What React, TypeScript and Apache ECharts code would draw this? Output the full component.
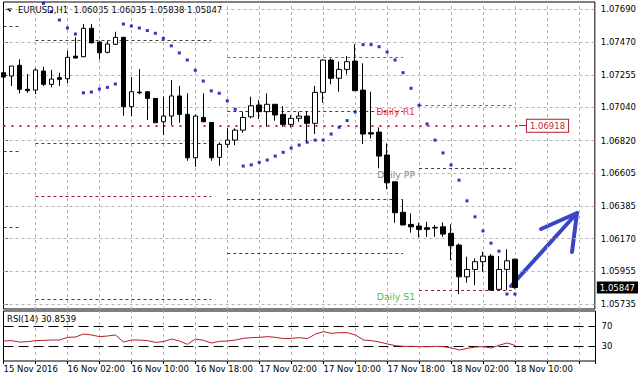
import React, { useEffect, useRef } from "react";
import * as echarts from "echarts";

// ---- data (EURUSD H1, first candle = 15 Nov 2016 18:00) ----
const opens = [1.07269, 1.07247, 1.07318, 1.07159, 1.07154, 1.0728, 1.07192, 1.07236, 1.07229, 1.07379, 1.07375, 1.07563, 1.07472, 1.07404, 1.07457, 1.07503, 1.07044, 1.07141, 1.07143, 1.07099, 1.06944, 1.06982, 1.07115, 1.06993, 1.06706, 1.06973, 1.0694, 1.06709, 1.06795, 1.06823, 1.06889, 1.06977, 1.07055, 1.07011, 1.0706, 1.06993, 1.06927, 1.06967, 1.06982, 1.06934, 1.07139, 1.07353, 1.07232, 1.07291, 1.07346, 1.07154, 1.06872, 1.06876, 1.06724, 1.06547, 1.06345, 1.06265, 1.06254, 1.06243, 1.06245, 1.06249, 1.06206, 1.06128, 1.05918, 1.05967, 1.06018, 1.06055, 1.05835, 1.05967, 1.06035];
const highs = [1.07399, 1.07313, 1.07357, 1.0726, 1.07298, 1.07308, 1.07287, 1.07269, 1.07414, 1.07503, 1.07591, 1.07591, 1.07481, 1.07481, 1.0754, 1.07507, 1.0724, 1.07293, 1.07143, 1.07099, 1.0711, 1.0722, 1.07181, 1.07132, 1.06993, 1.07132, 1.0694, 1.06808, 1.06901, 1.06901, 1.07011, 1.0711, 1.07088, 1.07132, 1.0706, 1.07048, 1.06989, 1.07011, 1.07011, 1.07181, 1.07357, 1.07364, 1.07342, 1.07379, 1.07457, 1.07331, 1.07143, 1.06907, 1.06801, 1.06547, 1.06426, 1.06338, 1.06276, 1.06282, 1.06261, 1.06278, 1.06265, 1.06139, 1.06051, 1.0604, 1.06084, 1.06069, 1.06055, 1.061, 1.06035];
const lows = [1.07181, 1.07181, 1.07132, 1.07136, 1.07128, 1.07181, 1.07172, 1.07181, 1.07199, 1.07364, 1.07371, 1.07463, 1.07357, 1.07397, 1.07452, 1.06984, 1.06982, 1.07126, 1.06956, 1.06938, 1.06856, 1.06923, 1.06938, 1.06686, 1.06646, 1.06944, 1.06686, 1.06653, 1.06772, 1.0679, 1.06872, 1.06967, 1.06962, 1.06911, 1.06951, 1.06911, 1.06907, 1.06944, 1.06812, 1.06863, 1.0707, 1.07192, 1.07143, 1.07258, 1.0715, 1.06797, 1.06834, 1.06636, 1.06497, 1.06276, 1.06261, 1.0621, 1.06179, 1.06183, 1.06183, 1.06183, 1.06029, 1.05804, 1.05879, 1.05863, 1.05951, 1.0583, 1.05835, 1.0583, 1.05838];
const closes = [1.0724, 1.07313, 1.07159, 1.0715, 1.07287, 1.07192, 1.07227, 1.07225, 1.07371, 1.07366, 1.07563, 1.07467, 1.07401, 1.07459, 1.07503, 1.07044, 1.07143, 1.07136, 1.07099, 1.06938, 1.06982, 1.07115, 1.06993, 1.06706, 1.06982, 1.06944, 1.06706, 1.06795, 1.06823, 1.06889, 1.06973, 1.0705, 1.07011, 1.0706, 1.06989, 1.06927, 1.06967, 1.06982, 1.06934, 1.07139, 1.07353, 1.07232, 1.07291, 1.07342, 1.0715, 1.06863, 1.06863, 1.06717, 1.0654, 1.06342, 1.06261, 1.06249, 1.06232, 1.06232, 1.06241, 1.06201, 1.06124, 1.05918, 1.05967, 1.06018, 1.06055, 1.0583, 1.05967, 1.06024, 1.05847];
const parabolicSar = [null, null, null, null, null, 1.07728, 1.07673, 1.07618, 1.07565, 1.07525, 1.07136, 1.07141, 1.07161, 1.07172, 1.07194, 1.07591, 1.07578, 1.07565, 1.07548, 1.0753, 1.07496, 1.07447, 1.074, 1.07353, 1.07285, 1.07214, 1.07149, 1.07133, 1.07083, 1.07027, 1.06651, 1.06659, 1.06676, 1.06691, 1.06717, 1.06742, 1.0677, 1.0679, 1.06809, 1.06823, 1.06823, 1.06863, 1.06908, 1.06952, 1.07009, 1.07455, 1.07455, 1.07441, 1.07406, 1.07353, 1.07269, 1.07166, 1.07054, 1.0693, 1.06823, 1.06738, 1.06658, 1.06558, 1.06421, 1.06315, 1.06222, 1.06141, 1.06088, 1.05804, 1.05804];
const rsi14 = [40, 40.7, 38, 38.7, 40.7, 41.3, 42, 42, 47.3, 48, 54, 52, 48.7, 50, 52, 38, 42, 42, 40.7, 37.3, 38.7, 44, 40, 33.3, 44, 41.3, 36, 39.3, 40, 42, 45.3, 46.7, 47.3, 48.7, 47.3, 44.7, 45.3, 46.7, 44.7, 54, 58.7, 55.3, 56.7, 56.7, 52, 42, 40.7, 38, 34, 30.7, 29.3, 29.3, 28.7, 28.7, 29.3, 28.7, 26, 22, 25.3, 28, 28.7, 26, 32, 36, 30.8539];

const priceTicks = [1.0769, 1.0747, 1.07255, 1.0704, 1.0682, 1.06605, 1.06385, 1.0617, 1.05955, 1.05735];
const timeTickIndex = [0, 8, 16, 24, 32, 40, 48, 56, 64];
const timeTickLabels = ["15 Nov 2016", "16 Nov 02:00", "16 Nov 10:00", "16 Nov 18:00", "17 Nov 02:00", "17 Nov 10:00", "17 Nov 18:00", "18 Nov 02:00", "18 Nov 10:00"];
const rsiTicks = [0, 30, 70, 100];
const rsiLevels = [70, 30];
const markedPrice = 1.06918;

// daily pivot segments: start/end slot of each day
const pivotSpans = [[0, 1.9], [4, 26], [28, 50], [52, 63.6]];
// [day, value, kind]
const pivotLevels: [number, number, string][] = [
  [0, 1.07578, "pp"], [0, 1.0675, "s"], [0, 1.06249, "s"],
  [1, 1.07481, "pp"], [1, 1.06801, "s"], [1, 1.06448, "s"], [1, 1.05771, "s"],
  [2, 1.07371, "r"], [2, 1.07017, "pp"], [2, 1.06431, "s"], [2, 1.06073, "s"],
  [3, 1.07053, "r"], [3, 1.06636, "pp"], [3, 1.0583, "s"],
];
const pivotNames: Record<string, string> = { r: "Daily R1", pp: "Daily PP", s: "Daily S1" };

const FONT = "DejaVu Sans, Verdana, sans-serif";
const SLOTS = 74;
const GRID_STEP = 4;
const PRICE_MIN = 1.05705;
const PRICE_MAX = 1.07737;

export default function App() {
  const ref = useRef<HTMLDivElement>(null);
  useEffect(() => {
    const chart = echarts.init(ref.current!, null, { renderer: "svg" });
    const candleData = opens.map((o, i) => [i, o, closes[i], lows[i], highs[i]]);
    const sarData = parabolicSar.map((v, i) => [i, v]).filter((d) => d[1] != null);
    const rsiData = rsi14.map((v, i) => [i, v]);
    const last = closes[closes.length - 1];
    const vGrid: number[] = [];
    for (let x = GRID_STEP; x < SLOTS; x += GRID_STEP) vGrid.push(x);

    const lineColors: Record<string, string> = { r: "#2e9e2e", pp: "#404040", s: "#a01424" };
    const labelColors: Record<string, string> = { r: "#e0403a", pp: "#8a8a8a", s: "#4cc04c" };
    const lastDay = pivotSpans.length - 1;
    const pivotData = pivotLevels.map(([d, v, k]) => {
      const [a, b] = pivotSpans[d];
      const showLabel = d === lastDay;
      return [
        {
          coord: [a, v],
          lineStyle: { color: lineColors[k], type: [3, 3], width: 1 },
          label: showLabel
            ? { show: true, position: "start", formatter: "\n" + pivotNames[k], color: labelColors[k], fontSize: 9.3, fontFamily: FONT, lineHeight: 13, distance: 4 }
            : { show: false },
        },
        { coord: [b, v] },
      ];
    });

    const gridLine = () => ({ color: "#b4b4b4", type: [3, 3], width: 1 });
    const ml = (extra: any) => ({ silent: true, symbol: ["none", "none"], animation: false, precision: 6, label: { show: false }, ...extra });
    const hGridMain = priceTicks.map((v) => [{ coord: [0, v], lineStyle: gridLine() }, { coord: [SLOTS, v] }]);
    const vGridMain = vGrid.map((x) => [{ coord: [x, PRICE_MIN], lineStyle: gridLine() }, { coord: [x, PRICE_MAX] }]);
    const vGridRsi = vGrid.map((x) => [{ coord: [x, 0], lineStyle: gridLine() }, { coord: [x, 100] }]);

    const option: any = {
      animation: false,
      backgroundColor: "#ffffff",
      textStyle: { fontFamily: FONT },
      grid: [
        { left: 3.5, top: 2, width: 592, height: 307, show: true, backgroundColor: "rgba(0,0,0,0)", borderColor: "#000", borderWidth: 1, z: 0 },
        { left: 3.5, top: 311, width: 592, height: 50, show: true, backgroundColor: "rgba(0,0,0,0)", borderColor: "#000", borderWidth: 1, z: 0 },
      ],
      xAxis: [
        { type: "value", gridIndex: 0, min: 0, max: SLOTS, interval: GRID_STEP, axisLine: { show: false }, axisTick: { show: false }, axisLabel: { show: false }, splitLine: { show: false } },
        {
          type: "value", gridIndex: 1, min: 0, max: SLOTS, interval: GRID_STEP,
          axisLine: { show: false },
          axisTick: { show: true, length: 3, lineStyle: { color: "#000" } },
          axisLabel: {
            customValues: timeTickIndex,
            formatter: (v: number) => timeTickLabels[timeTickIndex.indexOf(v)] ?? "",
            align: "left", margin: 3, color: "#000", fontSize: 8.5, fontFamily: FONT,
          },
          splitLine: { show: false },
        },
      ],
      yAxis: [
        {
          type: "value", gridIndex: 0, position: "right", min: PRICE_MIN, max: PRICE_MAX,
          axisLine: { show: false },
          axisTick: { show: true, customValues: priceTicks, length: 4, lineStyle: { color: "#000" } },
          axisLabel: { customValues: priceTicks, formatter: (v: number) => v.toFixed(5), margin: 6, color: "#000", fontSize: 8.5, fontFamily: FONT },
          splitLine: { show: false },
        },
        {
          type: "value", gridIndex: 1, position: "right", min: 0, max: 100,
          axisLine: { show: false },
          axisTick: { show: true, customValues: rsiTicks, length: 4, lineStyle: { color: "#000" } },
          axisLabel: {
            customValues: rsiTicks,
            formatter: (v: number) => (v === 100 ? "\n100" : v === 0 ? "0\n" : String(v)),
            lineHeight: 13, margin: 6, color: "#000", fontSize: 8.5, fontFamily: FONT,
          },
          splitLine: { show: false },
        },
      ],
      series: [
        { name: "gridMain", type: "line", xAxisIndex: 0, yAxisIndex: 0, data: [], z: 4, markLine: ml({ data: hGridMain.concat(vGridMain) }) },
        { name: "gridRsi", type: "line", xAxisIndex: 1, yAxisIndex: 1, data: [], z: 4, markLine: ml({ data: vGridRsi }) },
        { name: "pivots", type: "line", xAxisIndex: 0, yAxisIndex: 0, data: [], z: 4, markLine: ml({ data: pivotData }) },
        {
          name: "marked", type: "line", xAxisIndex: 0, yAxisIndex: 0, data: [], z: 4,
          markLine: ml({
            data: [
              [
                { coord: [0, markedPrice], lineStyle: { color: "#c0283a", type: [2, 6], width: 2 }, label: { show: false } },
                { coord: [64.5, markedPrice] },
              ],
              [
                {
                  coord: [64.5, markedPrice], lineStyle: { color: "#c0283a", type: "solid", width: 1 },
                  label: { show: true, position: "end", distance: 0, formatter: markedPrice.toFixed(5), color: "#c0283a", backgroundColor: "#fff", borderColor: "#b01c2c", borderWidth: 1, padding: [2, 3, 1, 3], fontSize: 8.5, fontFamily: FONT },
                },
                { coord: [65.5, markedPrice] },
              ],
            ],
          }),
        },
        {
          name: "bid", type: "line", xAxisIndex: 0, yAxisIndex: 0, data: [], z: 10,
          markLine: ml({
            lineStyle: { color: "rgba(0,0,0,0)", width: 0 },
            data: [
              {
                yAxis: last,
                label: { show: true, position: "end", distance: 2, formatter: last.toFixed(5), color: "#fff", backgroundColor: "#000", padding: [2, 3, 1, 3], fontSize: 8.5, fontFamily: FONT },
              },
            ],
          }),
        },
        {
          name: "EURUSD", type: "candlestick", xAxisIndex: 0, yAxisIndex: 0, z: 5,
          data: candleData, encode: { x: 0, y: [1, 2, 3, 4] },
          barWidth: 5,
          itemStyle: { color: "#ffffff", color0: "#000000", borderColor: "#000000", borderColor0: "#000000", borderWidth: 1 },
        },
        {
          name: "SAR", type: "scatter", xAxisIndex: 0, yAxisIndex: 0, z: 6,
          data: sarData, symbol: "rect", symbolSize: 3,
          itemStyle: { color: "#0000b4" },
        },
        {
          name: "RSI", type: "line", xAxisIndex: 1, yAxisIndex: 1, z: 5,
          data: rsiData, showSymbol: false, symbol: "none",
          lineStyle: { color: "#b41e28", width: 1 },
          markLine: ml({ lineStyle: { color: "#000", type: [10, 5], width: 1 }, data: rsiLevels.map((v) => ({ yAxis: v })) }),
        },
      ],
      graphic: [
        { type: "polygon", shape: { points: [[7, 8.5], [12.5, 8.5], [9.75, 12]] }, style: { fill: "#000" } },
        { type: "text", left: 18, top: 5, style: { text: "EURUSD,H1  1.06035 1.06035 1.05838 1.05847", fill: "#000", font: `8.5px ${FONT}` } },
        { type: "text", left: 7, top: 314, style: { text: "RSI(14) 30.8539", fill: "#000", font: `8.5px ${FONT}` } },
        { type: "line", shape: { x1: 511, y1: 286, x2: 577, y2: 213 }, style: { stroke: "#3b44c4", lineWidth: 4, lineCap: "round" } },
        { type: "polyline", shape: { points: [[541, 229], [577, 213], [572, 252]] }, style: { stroke: "#3b44c4", lineWidth: 4, lineCap: "round", lineJoin: "round", fill: "none" } },
      ],
    };
    chart.setOption(option);
    return () => chart.dispose();
  }, []);
  return <div ref={ref} style={{ position: "absolute", left: 0, top: 0, width: 639, height: 382 }} />;
}
